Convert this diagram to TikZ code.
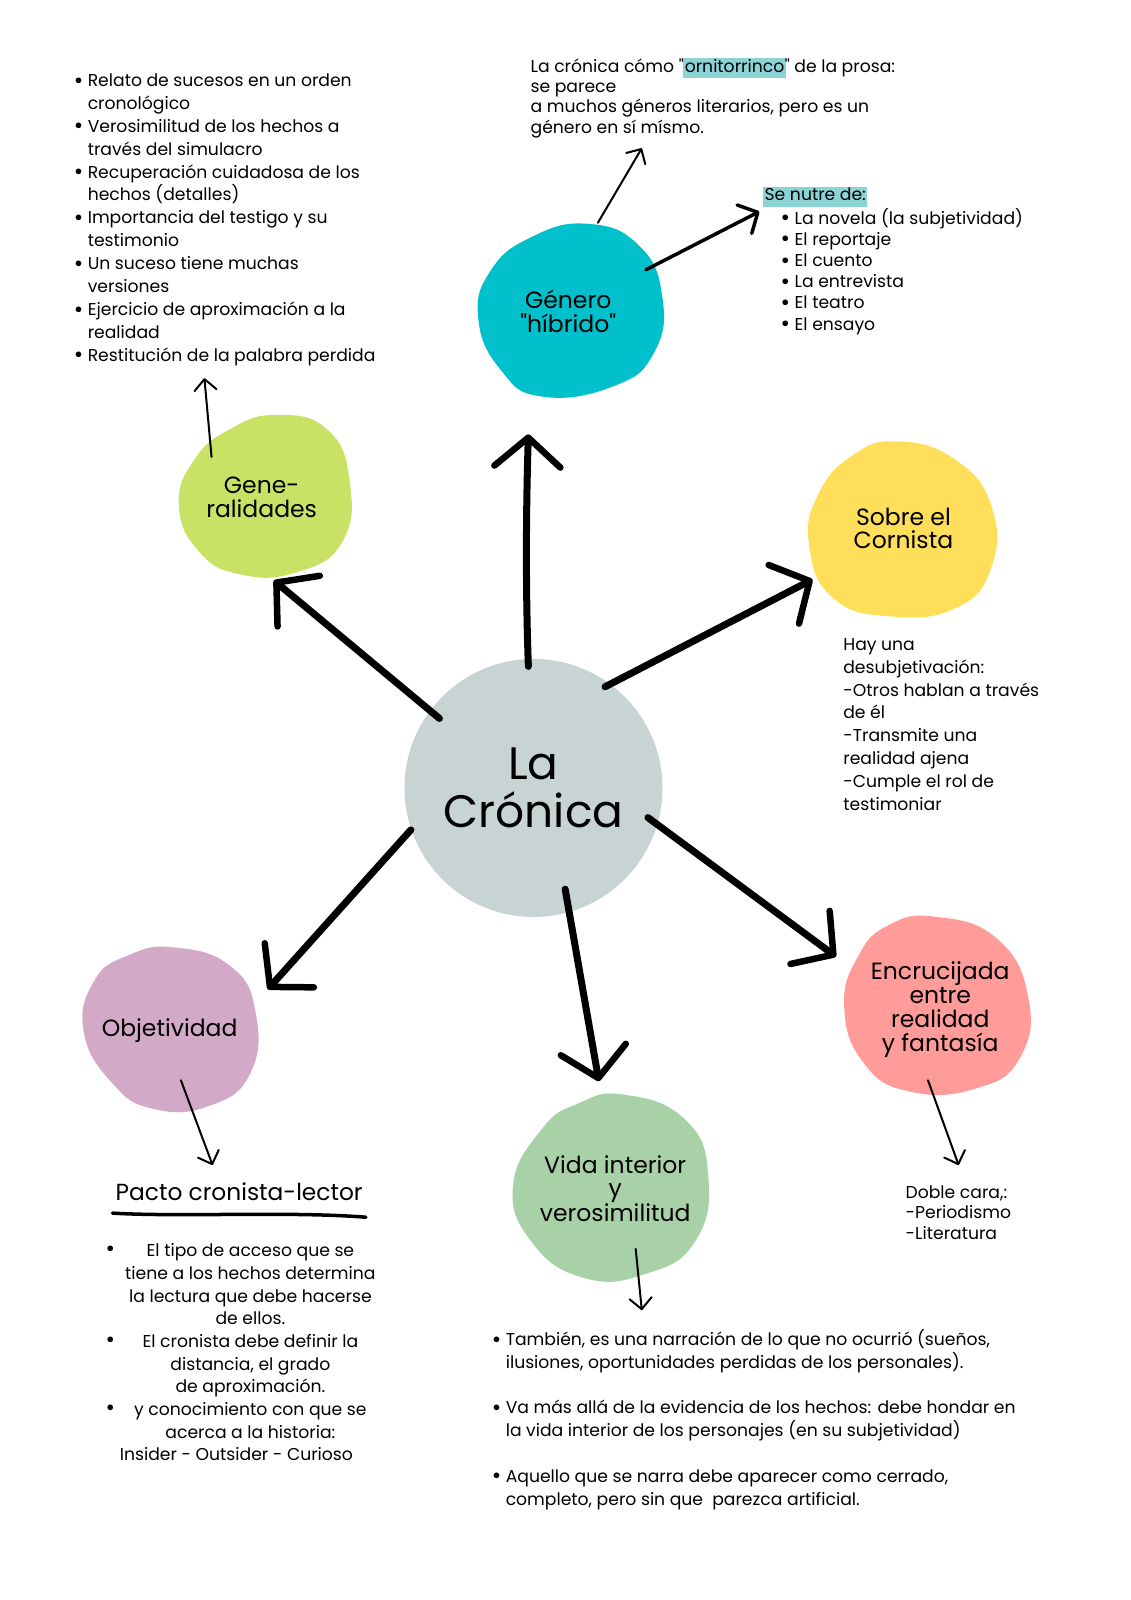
\documentclass[tikz,border=0pt]{standalone}
\usepackage{fontspec}
\setmainfont{Poppins}
\newfontfamily\popq{Poppins}
\usetikzlibrary{arrows.meta}
\definecolor{tealc}{HTML}{00C1CB}
\definecolor{limec}{HTML}{C9E265}
\definecolor{yellowc}{HTML}{FFDE59}
\definecolor{greyc}{HTML}{C8D3D3}
\definecolor{mauvec}{HTML}{D2A9C6}
\definecolor{greenc}{HTML}{A9D1A8}
\definecolor{salmonc}{HTML}{FF9B98}
\definecolor{hlc}{HTML}{8CD3D6}
\newcommand{\hlword}[1]{{\setlength{\fboxsep}{1.5pt}\hspace{-0.5pt}\colorbox{hlc}{\vphantom{lg}#1}\hspace{-1pt}}}
\newcommand{\bigbul}{\raisebox{-1.6pt}{\fontsize{23}{23}\selectfont •}}
\newcommand{\bul}{\makebox[14pt][l]{\bigbul}}
\newcommand{\ind}{\hspace*{14pt}}
\newcommand{\tq}{{\popq"}}
\newcommand{\topstrut}{\rule{0pt}{1.05em}}
\begin{document}
\begin{tikzpicture}[x=1.022pt,y=-1.022pt,
  blobtext/.style={align=center,inner sep=0pt,font=\fontsize{23.5}{23.8}\selectfont},
  body/.style={align=left,inner sep=0pt,anchor=north west,font=\fontsize{17.2}{22.9}\selectfont},
  brush/.style={line width=7pt,line cap=round,-{Straight Barb[length=29pt,width=66pt,line width=6.5pt,round]}},
  thinarrow/.style={line width=2pt,line cap=round,-{Straight Barb[length=11pt,width=22pt,line width=2pt,round]}},
  midarrow/.style={line width=3.5pt,line cap=round,-{Straight Barb[length=15pt,width=32pt,line width=3.5pt,round]}}]
\useasboundingbox (0,0) rectangle (1106.65,1565.56);
\fill[white] (0,0) rectangle (1106.65,1565.56);

% blobs
\fill[tealc] plot[smooth cycle,tension=0.8] coordinates {(575,219) (625,240) (648,290) (640,345) (600,378) (530,388) (490,362) (468,312) (480,265) (520,232)};
\fill[limec] plot[smooth cycle,tension=0.8] coordinates {(270,406) (320,420) (342,470) (335,530) (290,560) (235,562) (195,540) (175,495) (190,450) (225,420)};
\fill[yellowc] plot[smooth cycle,tension=0.8] coordinates {(880,432) (935,450) (970,495) (970,555) (935,595) (870,603) (815,585) (792,535) (800,485) (835,445)};
\fill[mauvec] plot[smooth cycle,tension=0.8] coordinates {(170,927) (225,945) (250,990) (245,1050) (205,1082) (150,1085) (110,1060) (82,1010) (92,960) (125,935)};
\fill[greenc] plot[smooth cycle,tension=0.8] coordinates {(610,1071) (670,1095) (693,1150) (680,1215) (630,1247) (570,1250) (520,1215) (502,1160) (530,1105) (565,1080)};
\fill[salmonc] plot[smooth cycle,tension=0.8] coordinates {(915,897) (975,918) (1006,975) (998,1035) (955,1065) (890,1068) (845,1040) (826,985) (840,935) (870,905)};

% centre
\node[circle,fill=greyc,minimum size=258pt,inner sep=0pt,align=center,font=\fontsize{45.5}{48}\selectfont] (cron) at (522,771) {La\\Crónica};

% blob labels
\node[blobtext] (hib) at (556,305) {Género\\\tq híbrido\tq};
\node[blobtext] (gen) at (256,487) {Gene-\\ralidades};
\node[blobtext] (cor) at (884,517) {Sobre el\\Cornista};
\node[blobtext] (obj) at (166,1008) {Objetividad};
\node[blobtext] (vid) at (602,1163) {Vida interior\\y\\verosimilitud};
\node[blobtext] (enc) at (920,988) {Encrucijada\\entre\\realidad\\y fantasía};

% thick arrows
\coordinate (aU0) at (517,652); \coordinate (aU1) at (517,425);
\coordinate (aG0) at (430,703); \coordinate (aG1) at (268,568);
\coordinate (aC0) at (592,672); \coordinate (aC1) at (795,567);
\coordinate (aO0) at (402,812); \coordinate (aO1) at (262,968);
\coordinate (aV0) at (553,870); \coordinate (aV1) at (586,1058);
\coordinate (aE0) at (634,800); \coordinate (aE1) at (818,936);
\draw[brush] (aU0) .. controls (514,570) and (515,490) .. (aU1);
\draw[brush] (aG0) -- (aG1);
\draw[brush] (aC0) -- (aC1);
\draw[brush] (aO0) -- (aO1);
\draw[brush] (aV0) -- (aV1);
\draw[brush] (aE0) -- (aE1);

% thin arrows
\coordinate (tG0) at (207,447); \coordinate (tG1) at (200,370);
\coordinate (tH0) at (585,218); \coordinate (tH1) at (628,145);
\coordinate (tN0) at (632,264); \coordinate (tN1) at (743,207);
\coordinate (tO0) at (177,1057); \coordinate (tO1) at (208,1140);
\coordinate (tV0) at (622,1222); \coordinate (tV1) at (628,1282);
\coordinate (tE0) at (908,1057); \coordinate (tE1) at (938,1140);
\draw[thinarrow] (tG0) -- (tG1);
\draw[thinarrow] (tH0) -- (tH1);
\draw[midarrow] (tN0) -- (tN1);
\draw[thinarrow] (tO0) -- (tO1);
\draw[thinarrow] (tV0) -- (tV1);
\draw[thinarrow] (tE0) -- (tE1);

% texts
\node[body] (genlist) at (72,66.7) {\topstrut\bul Relato de sucesos en un orden\\\ind cronológico\\\bul Verosimilitud de los hechos a\\\ind través del simulacro\\\bul Recuperación cuidadosa de los\\\ind hechos (detalles)\\\bul Importancia del testigo y su\\\ind testimonio\\\bul Un suceso tiene muchas\\\ind versiones\\\bul Ejercicio de aproximación a la\\\ind realidad\\\bul Restitución de la palabra perdida};

\node[body,font=\fontsize{17.2}{20.4}\selectfont] (orni) at (519,52.7) {\topstrut La crónica cómo \tq\hlword{ornitorrinco}\tq{} de la prosa:\\se parece\\a muchos géneros literarios, pero es un\\género en sí mísmo.};

\node[body,font=\fontsize{17.2}{21.2}\selectfont] (nutre) at (747,178.7) {\topstrut\hlword{Se nutre de:}\\\hspace*{17pt}\bul La novela (la subjetividad)\\\hspace*{17pt}\bul El reportaje\\\hspace*{17pt}\bul El cuento\\\hspace*{17pt}\bul La entrevista\\\hspace*{17pt}\bul El teatro\\\hspace*{17pt}\bul El ensayo};

\node[body,font=\fontsize{17.2}{22.8}\selectfont] (desub) at (825,618.7) {\topstrut Hay una\\desubjetivación:\\-Otros hablan a través\\de él\\-Transmite una\\realidad ajena\\-Cumple el rol de\\testimoniar};

\node[body,font=\fontsize{17.2}{20.4}\selectfont] (doble) at (886,1154.7) {\topstrut Doble cara,:\\-Periodismo\\-Literatura};

\node[inner sep=0pt,font=\fontsize{23.3}{26}\selectfont] (pacto) at (234,1166) {Pacto cronista-lector};
\draw[line width=3.5pt,line cap=round] (110,1187) .. controls (180,1191) and (280,1185) .. (358,1191);

\node[inner sep=0pt,anchor=north,align=center,font=\fontsize{17.2}{22.7}\selectfont] (pactolist) at (245,1211.7) {\topstrut El tipo de acceso que se\\tiene a los hechos determina\\la lectura que debe hacerse\\de ellos.\\El cronista debe definir la\\distancia, el grado\\de aproximación.\hspace*{22pt}\\y conocimiento con que se\\acerca a la historia:\\Insider - Outsider - Curioso\hspace*{28pt}};
\node[inner sep=0pt,font=\fontsize{17.2}{22}\selectfont] (pb1) at (108,1224) {\bigbul};
\node[inner sep=0pt,font=\fontsize{17.2}{22}\selectfont] (pb2) at (108,1313) {\bigbul};
\node[inner sep=0pt,font=\fontsize{17.2}{22}\selectfont] (pb3) at (108,1380) {\bigbul};

\node[body,font=\fontsize{17.2}{22.8}\selectfont] (vidlist) at (481,1298.7) {\topstrut\bul También, es una narración de lo que no ocurrió (sueños,\\\ind ilusiones, oportunidades perdidas de los personales).\\[22.8pt]\bul Va más allá de la evidencia de los hechos: debe hondar en\\\ind la vida interior de los personajes (en su subjetividad)\\[22.8pt]\bul Aquello que se narra debe aparecer como cerrado,\\\ind completo, pero sin que\ \ parezca artificial.};
\end{tikzpicture}
\end{document}
